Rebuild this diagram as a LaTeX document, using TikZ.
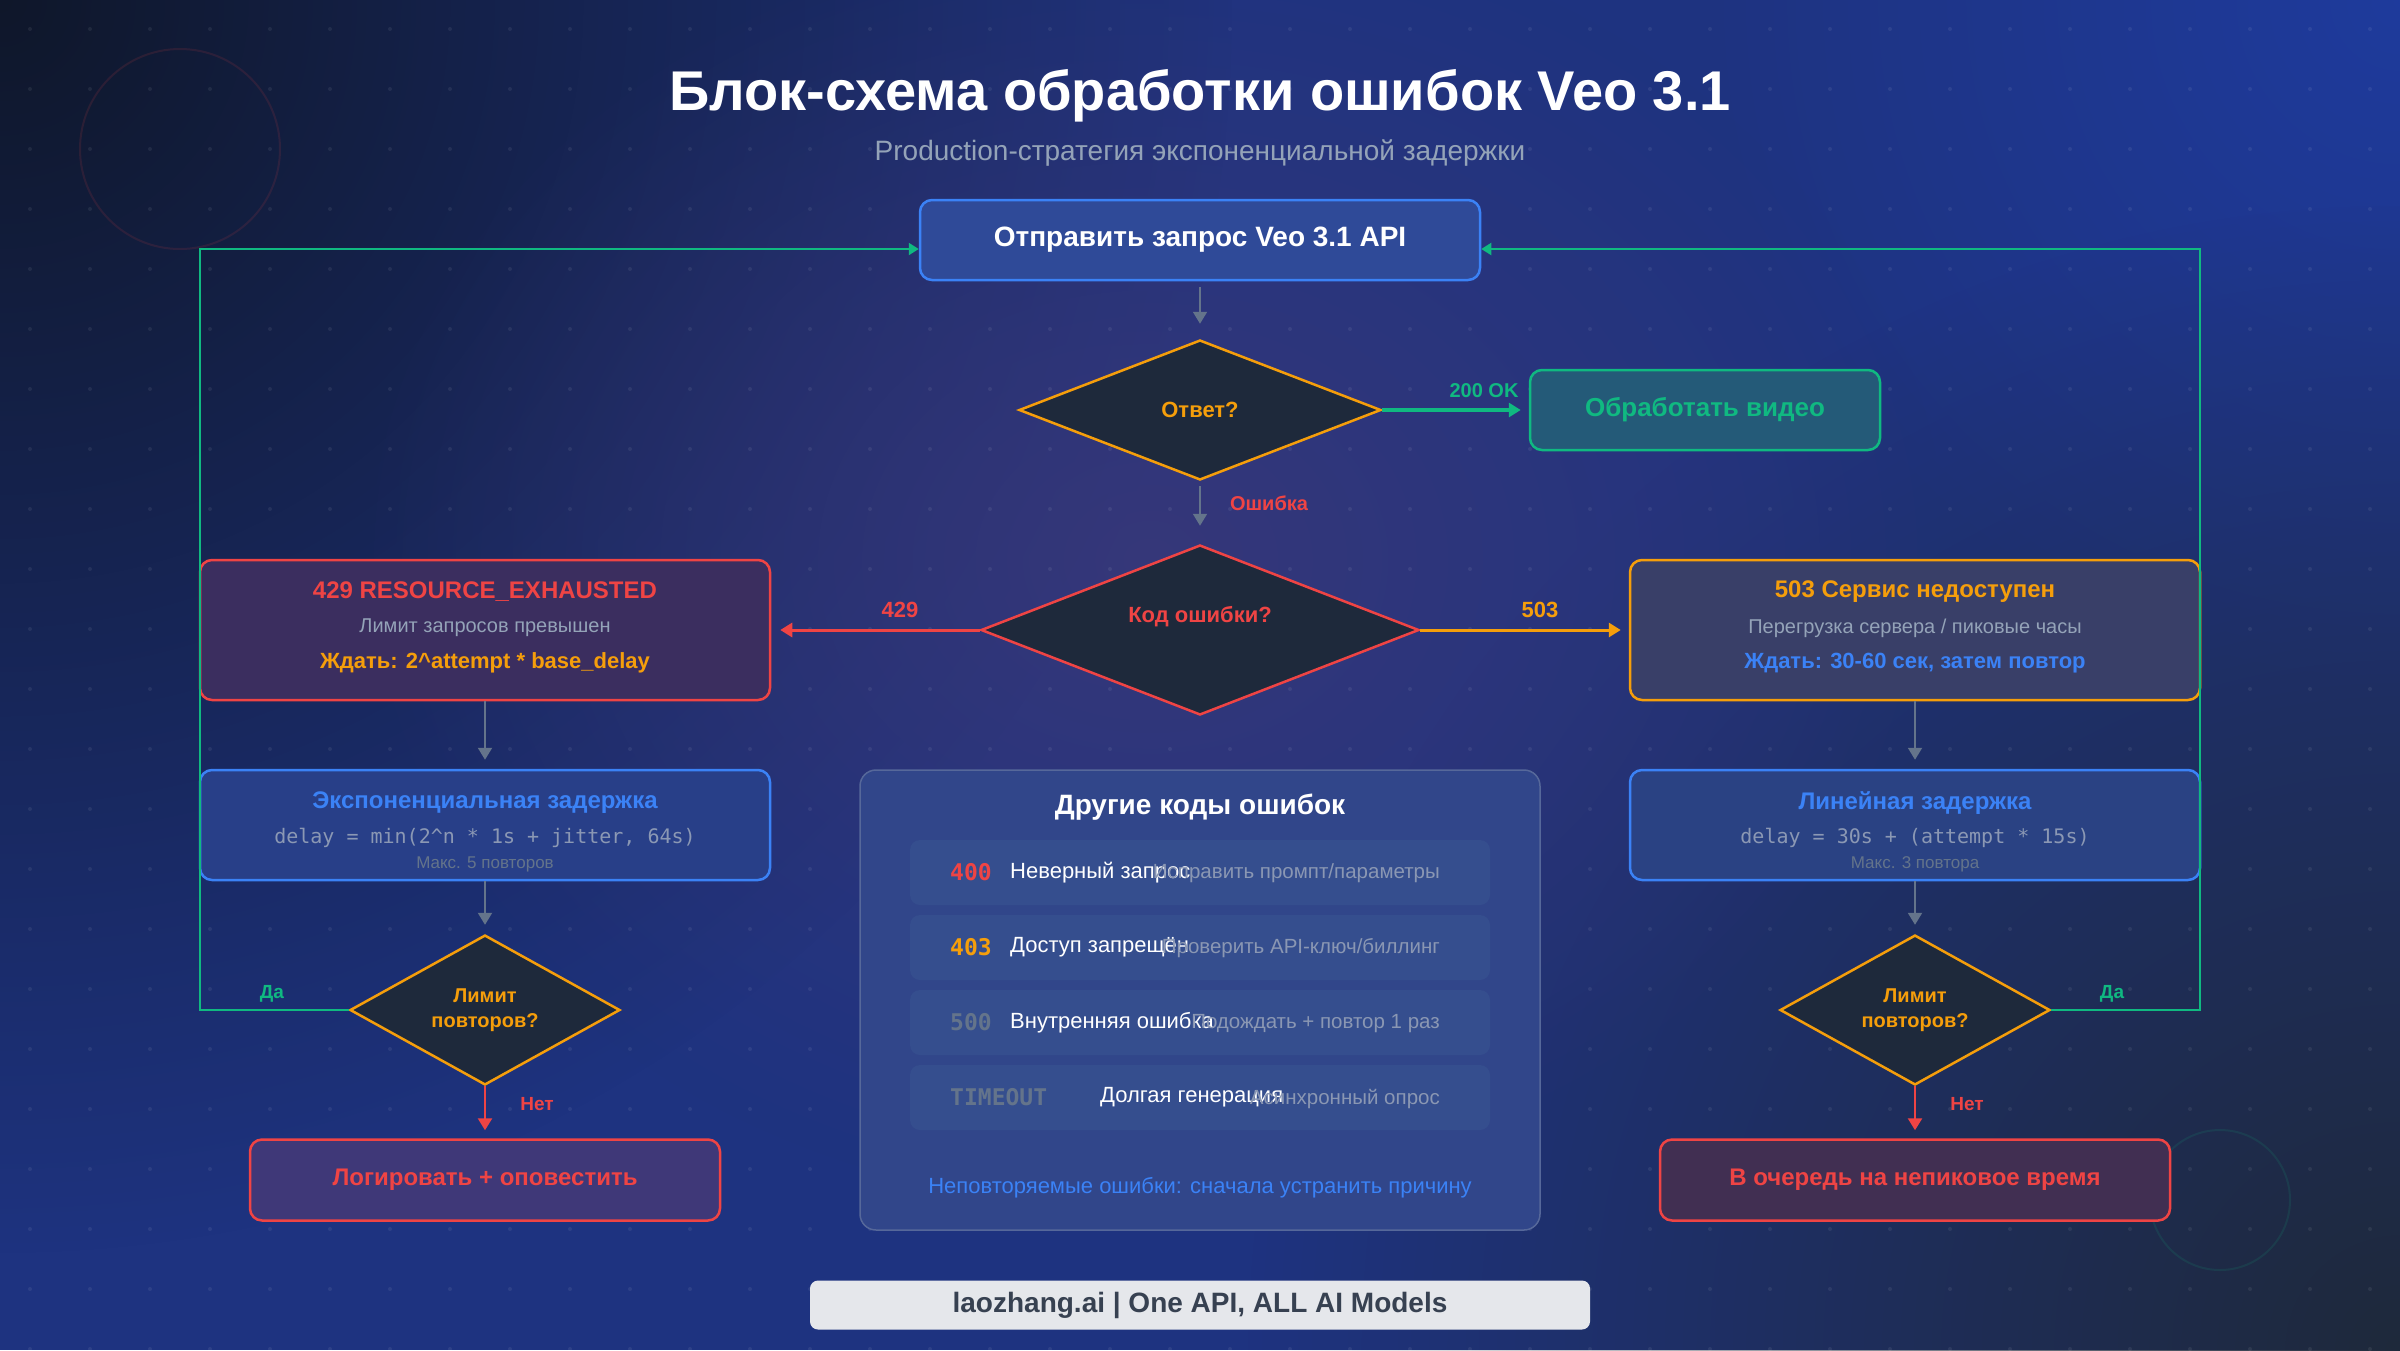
\documentclass[tikz,border=0pt]{standalone}
\usepackage{fontspec}
\setmainfont{Liberation Sans}
\setmonofont{DejaVu Sans Mono}
\usetikzlibrary{shapes.geometric,arrows.meta,fadings}
\tikzfading[name=glowfade, inner color=transparent!0, outer color=transparent!100]
\definecolor{cred}{HTML}{EF4444}
\definecolor{corange}{HTML}{F59E0B}
\definecolor{cgreen}{HTML}{10B981}
\definecolor{cblue}{HTML}{3B82F6}
\definecolor{cgray}{HTML}{64748B}
\definecolor{clgray}{HTML}{94A3B8}
\definecolor{cdia}{HTML}{1E293B}
\definecolor{ctop}{HTML}{2F4A98}
\definecolor{cproc}{HTML}{245A78}
\definecolor{cfourtwonine}{HTML}{3B2E5F}
\definecolor{cexp}{HTML}{283F88}
\definecolor{clog}{HTML}{3F3878}
\definecolor{cfivezerothree}{HTML}{393F68}
\definecolor{clin}{HTML}{2A4283}
\definecolor{cqueue}{HTML}{412F52}
\definecolor{cpanel}{HTML}{31468A}
\definecolor{cpanelb}{HTML}{56689A}
\definecolor{crow}{HTML}{354E8E}
\definecolor{cbanner}{HTML}{E5E7EB}
\definecolor{cbantext}{HTML}{374151}
\definecolor{cbgbase}{HTML}{1E3380}
\definecolor{cbgdark}{HTML}{0F172A}
\definecolor{cbgslate}{HTML}{1E293B}
\definecolor{cbgpurple}{HTML}{3A3878}
\definecolor{cbgblue}{HTML}{1E40AF}
\definecolor{ccode}{HTML}{8B98B4}
\definecolor{caction}{HTML}{8A97B3}
\newcommand\fsz[2]{\fontsize{#1}{#2}\selectfont}
\begin{document}
\begin{tikzpicture}[x=1pt,y=-1pt,
  box/.style={rounded corners=12pt, line width=2.5pt, inner sep=0pt, align=center},
  dia/.style={diamond, fill=cdia, line width=2.5pt, inner sep=0pt, align=center},
  tip/.style={-{Triangle[length=12pt,width=14pt]}},
  garrow/.style={draw=cgray, line width=2pt, tip},
  lbl/.style={inner sep=0pt, font=\fsz{19}{22}\bfseries},
  txt/.style={inner sep=0pt, align=center}
]
\useasboundingbox (0,0) rectangle (2400,1350);
% background
\begin{scope}
\clip (0,0) rectangle (2400,1350);
\fill[cbgbase] (0,0) rectangle (2400,1350);
\fill[cbgblue, path fading=glowfade, opacity=0.6] (2400,0) circle[radius=700];
\fill[cbgdark, path fading=glowfade] (0,0) circle[radius=1250];
\fill[cbgslate, path fading=glowfade] (2400,1350) circle[radius=1150];
\fill[cbgpurple, path fading=glowfade, opacity=0.85] (1150,560) ellipse[x radius=800, y radius=650];
\foreach \i in {0,...,39}{\foreach \j in {0,...,22}{
  \fill[white, opacity=0.07] (30+60*\i, 29+60*\j) circle[radius=2];
}}
\draw[cred, opacity=0.12, line width=2pt] (180,149) circle[radius=100];
\draw[cgreen, opacity=0.12, line width=2pt] (2220,1200) circle[radius=70];
\end{scope}

% title
\node[txt, text=white, font=\fsz{56}{62}\bfseries] (title) at (1200,96) {Блок-схема обработки ошибок Veo 3.1};
\node[txt, text=clgray, font=\fsz{28}{33}] (sub) at (1200,153) {Production-стратегия экспоненциальной задержки};

% main flow
\node[box, draw=cblue, fill=ctop, minimum width=560, minimum height=80, text=white, font=\fsz{28}{33}\bfseries] (send) at (1200,240) {Отправить запрос Veo 3.1 API};
\node[dia, draw=corange, minimum width=362, minimum height=140, text=corange, font=\fsz{22}{26}\bfseries] (resp) at (1200,410) {Ответ?};
\node[box, draw=cgreen, fill=cproc, minimum width=350, minimum height=80, text=cgreen, font=\fsz{26}{30}\bfseries] (proc) at (1705,410) {Обработать видео};
\node[dia, draw=cred, minimum width=438, minimum height=170] (code) at (1200,630) {};
\node[txt, text=cred, font=\fsz{22}{26}\bfseries] (codet) at (1200,617) {Код ошибки?};

% left branch
\node[box, draw=cred, fill=cfourtwonine, minimum width=570, minimum height=140] (bfour) at (485,630) {};
\node[txt, text=cred, font=\fsz{24}{28}\bfseries] (bfoura) at (485,592) {429 RESOURCE\_EXHAUSTED};
\node[txt, text=clgray, font=\fsz{20}{24}] (bfourb) at (485,628) {Лимит запросов превышен};
\node[txt, text=corange, font=\fsz{22}{26}\bfseries] (bfourc) at (485,663) {Ждать: 2\textasciicircum attempt * base\_delay};

\node[box, draw=cblue, fill=cexp, minimum width=570, minimum height=110] (bexp) at (485,825) {};
\node[txt, text=cblue, font=\fsz{24}{28}\bfseries] (bexpa) at (485,803) {Экспоненциальная задержка};
\node[txt, text=ccode, font=\fsz{20}{24}\ttfamily] (bexpb) at (485,838) {delay = min(2\textasciicircum n * 1s + jitter, 64s)};
\node[txt, text=cgray, font=\fsz{17}{20}] (bexpc) at (485,864) {Макс. 5 повторов};

\node[dia, draw=corange, minimum width=270, minimum height=140, text=corange, font=\fsz{20}{25}\bfseries] (limone) at (485,1010) {Лимит\\повторов?};
\node[box, draw=cred, fill=clog, minimum width=470, minimum height=81, text=cred, font=\fsz{24}{28}\bfseries] (blog) at (485,1180) {Логировать + оповестить};

% right branch
\node[box, draw=corange, fill=cfivezerothree, minimum width=570, minimum height=140] (bfive) at (1915,630) {};
\node[txt, text=corange, font=\fsz{24}{28}\bfseries] (bfivea) at (1915,592) {503 Сервис недоступен};
\node[txt, text=clgray, font=\fsz{20}{24}] (bfiveb) at (1915,628) {Перегрузка сервера / пиковые часы};
\node[txt, text=cblue, font=\fsz{22}{26}\bfseries] (bfivec) at (1915,663) {Ждать: 30-60 сек, затем повтор};

\node[box, draw=cblue, fill=clin, minimum width=570, minimum height=110] (blin) at (1915,825) {};
\node[txt, text=cblue, font=\fsz{24}{28}\bfseries] (blina) at (1915,803) {Линейная задержка};
\node[txt, text=ccode, font=\fsz{20}{24}\ttfamily] (blinb) at (1915,838) {delay = 30s + (attempt * 15s)};
\node[txt, text=cgray, font=\fsz{17}{20}] (blinc) at (1915,864) {Макс. 3 повтора};

\node[dia, draw=corange, minimum width=270, minimum height=140, text=corange, font=\fsz{20}{25}\bfseries] (limtwo) at (1915,1010) {Лимит\\повторов?};
\node[box, draw=cred, fill=cqueue, minimum width=510, minimum height=81, text=cred, font=\fsz{24}{28}\bfseries] (bq) at (1915,1180) {В очередь на непиковое время};

% panel
\node[box, rounded corners=16pt, draw=cpanelb, line width=1.5pt, fill=cpanel, minimum width=680, minimum height=460] (panel) at (1200,1000) {};
\node[txt, text=white, font=\fsz{28}{33}\bfseries] (ptitle) at (1200,807) {Другие коды ошибок};
\foreach \n/\y in {ra/872.5, rb/947.5, rc/1022.5, rd/1097.5}{
  \node[rounded corners=10pt, fill=crow, minimum width=580, minimum height=65, inner sep=0pt] (\n) at (1200,\y) {};
}
\node[anchor=west, inner sep=0pt, text=cred, font=\fsz{23}{27}\ttfamily\bfseries] (ca) at (950,872.5) {400};
\node[anchor=west, inner sep=0pt, text=white, font=\fsz{22}{26}] (da) at (1010,872.5) {Неверный запрос};
\node[anchor=east, inner sep=0pt, text=caction, font=\fsz{20.5}{24}] (aa) at (1440,873.5) {Исправить промпт/параметры};
\node[anchor=west, inner sep=0pt, text=corange, font=\fsz{23}{27}\ttfamily\bfseries] (cb) at (950,947.5) {403};
\node[anchor=west, inner sep=0pt, text=white, font=\fsz{22}{26}] (db) at (1010,947.5) {Доступ запрещён};
\node[anchor=east, inner sep=0pt, text=caction, font=\fsz{20.5}{24}] (ab) at (1440,948.5) {Проверить API-ключ/биллинг};
\node[anchor=west, inner sep=0pt, text=cgray, font=\fsz{23}{27}\ttfamily\bfseries] (cc) at (950,1022.5) {500};
\node[anchor=west, inner sep=0pt, text=white, font=\fsz{22}{26}] (dc) at (1010,1022.5) {Внутренняя ошибка};
\node[anchor=east, inner sep=0pt, text=caction, font=\fsz{20.5}{24}] (ac) at (1440,1023.5) {Подождать + повтор 1 раз};
\node[anchor=west, inner sep=0pt, text=cgray, font=\fsz{23}{27}\ttfamily\bfseries] (cd) at (950,1097.5) {TIMEOUT};
\node[anchor=west, inner sep=0pt, text=white, font=\fsz{22}{26}] (dd) at (1100,1097.5) {Долгая генерация};
\node[anchor=east, inner sep=0pt, text=caction, font=\fsz{20.5}{24}] (ad) at (1440,1098.5) {Асинхронный опрос};
\node[txt, text=cblue, font=\fsz{22}{26}] (pnote) at (1200,1188) {Неповторяемые ошибки: сначала устранить причину};

% banner
\node[rounded corners=8pt, fill=cbanner, minimum width=780, minimum height=49, inner sep=0pt, text=cbantext, font=\fsz{28}{33}\bfseries] (brand) at (1200,1305) {laozhang.ai | One API, ALL AI Models};

% connectors
\draw[garrow, shorten <=6pt, shorten >=15pt] (send.south) -- (resp.north);
\draw[draw=cgreen, line width=3.5pt, tip, shorten >=8pt] (resp.east) -- (proc.west);
\node[lbl, text=cgreen, font=\fsz{20}{24}\bfseries] (lok) at (1484,391) {200 OK};
\draw[garrow, shorten <=5pt, shorten >=18pt] (resp.south) -- (code.north);
\node[lbl, text=cred, font=\fsz{20}{24}\bfseries] (lerr) at (1269,503) {Ошибка};
\draw[draw=cred, line width=3pt, tip, shorten >=9pt] (code.west) -- (bfour.east);
\node[lbl, text=cred, font=\fsz{22}{26}\bfseries] (lfour) at (900,610) {429};
\draw[draw=corange, line width=3pt, tip, shorten >=8pt] (code.east) -- (bfive.west);
\node[lbl, text=corange, font=\fsz{22}{26}\bfseries] (lfive) at (1540,610) {503};

\draw[garrow, shorten >=9pt] (bfour.south) -- (bexp.north);
\draw[garrow, shorten >=9pt] (bexp.south) -- (limone.north);
\draw[draw=cred, line width=2.5pt, tip, shorten >=8pt] (limone.south) -- (blog.north);
\node[lbl, text=cred] (lnoone) at (537,1104) {Нет};
\draw[garrow, shorten >=9pt] (bfive.south) -- (blin.north);
\draw[garrow, shorten >=9pt] (blin.south) -- (limtwo.north);
\draw[draw=cred, line width=2.5pt, tip, shorten >=8pt] (limtwo.south) -- (bq.north);
\node[lbl, text=cred] (lnotwo) at (1967,1104) {Нет};

\coordinate (lc) at (200,249);
\coordinate (rc) at (2200,249);
\draw[draw=cgreen, line width=2pt, -{Triangle[length=10pt,width=12pt]}] (limone.west) -| (lc) -- (lc -| send.west);
\draw[draw=cgreen, line width=2pt, -{Triangle[length=10pt,width=12pt]}] (limtwo.east) -| (rc) -- (rc -| send.east);
\node[lbl, text=cgreen] (lyesone) at (272,994) {Да};
\node[lbl, text=cgreen] (lyestwo) at (2112,994) {Да};
\end{tikzpicture}
\end{document}
